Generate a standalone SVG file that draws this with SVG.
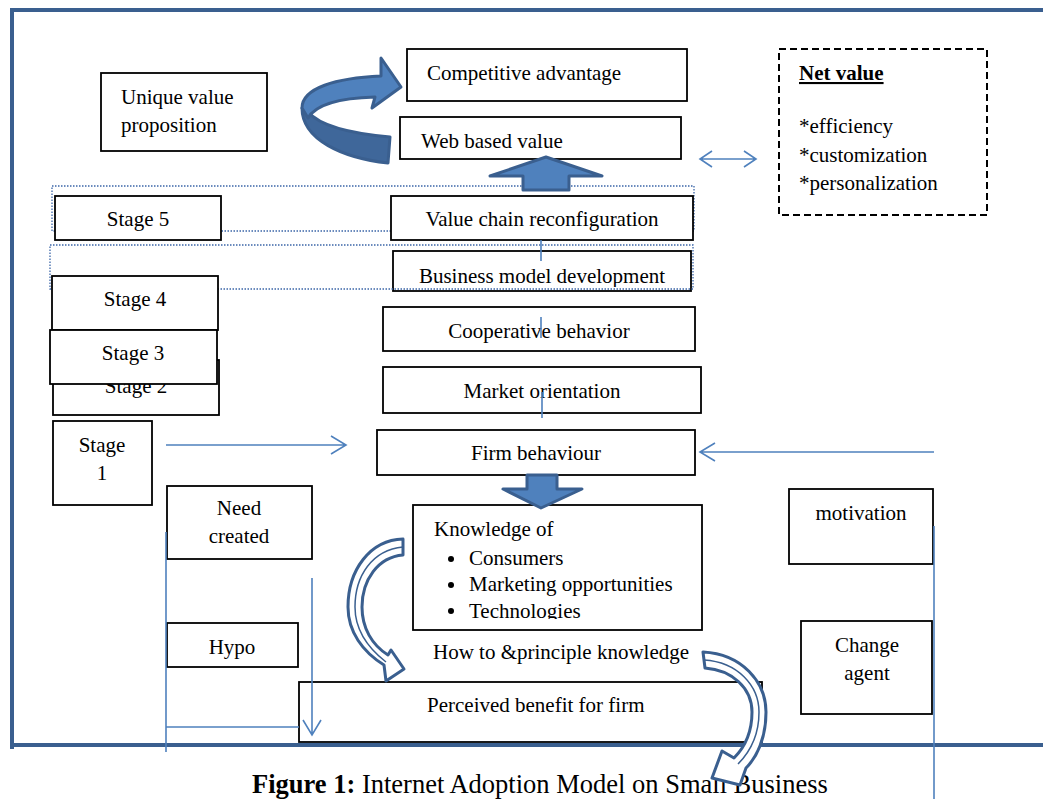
<svg xmlns="http://www.w3.org/2000/svg" width="1043" height="799" viewBox="0 0 1043 799">
<defs>
<style>
.box{fill:#fff;stroke:#000;stroke-width:1.8}
.t{font-family:"Liberation Serif","Times New Roman",serif;font-size:21px;fill:#000}
.c{text-anchor:middle}
.ln{fill:none;stroke:#4F81BD;stroke-width:1.6}
.dot{fill:none;stroke:#3B66A8;stroke-width:1.3;stroke-dasharray:1.5,1.5}
.fat{fill:#4F81BD;stroke:#3A5F8F;stroke-width:3;stroke-linejoin:round}
.hol{fill:#fff;stroke:#3A5F8F;stroke-width:3;stroke-linejoin:round}
</style>
<clipPath id="bmclip"><rect x="393" y="251" width="298" height="36"/></clipPath>
<clipPath id="kclip"><rect x="413" y="505" width="289" height="114"/></clipPath>
</defs>
<rect width="1043" height="799" fill="#fff"/>
<path d="M12,749 L12,10 L1043,10 M10,745 L1043,745" fill="none" stroke="#3A5F8F" stroke-width="4"/>

<rect class="dot" x="52" y="186" width="642" height="45"/>

<g id="unique"><rect class="box" x="101" y="73" width="166" height="78"/><text class="t" x="121" y="104">Unique value</text><text class="t" x="121" y="132">proposition</text></g>
<g id="competitive"><rect class="box" x="407" y="49" width="280" height="52"/><text class="t" x="427" y="80">Competitive advantage</text></g>
<g id="webvalue"><rect class="box" x="400" y="117" width="281" height="42"/><text class="t" x="421" y="148">Web based value</text></g>
<g id="netvalue"><rect x="779" y="49" width="208" height="166" fill="#fff" stroke="#000" stroke-width="2" stroke-dasharray="7,4"/>
<text class="t" x="799" y="80" font-weight="bold" text-decoration="underline">Net value</text>
<text class="t" x="799" y="133">*efficiency</text><text class="t" x="799" y="162">*customization</text><text class="t" x="799" y="190">*personalization</text></g>

<g id="stage5"><rect class="box" x="55" y="196" width="166" height="44"/><text class="t c" x="138" y="226">Stage 5</text></g>
<g id="valuechain"><rect class="box" x="391" y="196" width="302" height="44"/><text class="t c" x="542" y="226">Value chain reconfiguration</text></g>
<g id="bizmodel"><rect class="box" x="393" y="251" width="298" height="40"/><text class="t c" x="542" y="283" clip-path="url(#bmclip)">Business model development</text></g>
<rect class="dot" x="50" y="245" width="643" height="44"/>
<g id="stage4"><rect class="box" x="52" y="276" width="166" height="54"/><text class="t c" x="135" y="306">Stage 4</text></g>
<g id="coop"><rect class="box" x="383" y="307" width="312" height="44"/><text class="t c" x="539" y="338">Cooperative behavior</text></g>
<g id="stage2"><rect class="box" x="53" y="360" width="166" height="55"/><text class="t c" x="136" y="393">Stage 2</text></g>
<g id="stage3"><rect class="box" x="50" y="330" width="167" height="54"/><text class="t c" x="133" y="360">Stage 3</text></g>
<g id="market"><rect class="box" x="383" y="367" width="318" height="46"/><text class="t c" x="542" y="398">Market orientation</text></g>
<g id="stage1"><rect class="box" x="53" y="421" width="99" height="84"/><text class="t c" x="102" y="452">Stage</text><text class="t c" x="102" y="480">1</text></g>
<g id="firm"><rect class="box" x="377" y="430" width="318" height="45"/><text class="t c" x="536" y="460">Firm behaviour</text></g>
<g id="need"><rect class="box" x="167" y="486" width="145" height="73"/><text class="t c" x="239" y="515">Need</text><text class="t c" x="239" y="543">created</text></g>
<g id="motivation"><rect class="box" x="789" y="489" width="144" height="75"/><text class="t c" x="861" y="520">motivation</text></g>
<g id="knowledge"><rect class="box" x="413" y="505" width="289" height="125"/>
<g clip-path="url(#kclip)"><text class="t" x="434" y="536">Knowledge of</text>
<circle cx="451" cy="559" r="3"/><circle cx="451" cy="585" r="3"/><circle cx="451" cy="611" r="3"/>
<text class="t" x="469" y="565">Consumers</text><text class="t" x="469" y="591">Marketing opportunities</text><text class="t" x="469" y="618">Technologies</text></g></g>
<g id="hypo"><rect class="box" x="167" y="623" width="131" height="44"/><text class="t c" x="232" y="654">Hypo</text></g>
<g id="change"><rect class="box" x="801" y="621" width="131" height="93"/><text class="t c" x="867" y="652">Change</text><text class="t c" x="867" y="680">agent</text></g>
<g id="howto"><text class="t" x="433" y="659">How to &amp;principle knowledge</text></g>
<g id="perceived"><rect class="box" x="299" y="682" width="463" height="60"/><text class="t" x="427" y="712">Perceived benefit for firm</text></g>

<text x="252" y="793" font-family="Liberation Serif, Times New Roman, serif" font-size="26.5px"><tspan font-weight="bold">Figure 1:</tspan> Internet Adoption Model on Small Business</text>

<g id="connectors">
<path class="ln" d="M541,240 L541,261 M541,317 L541,338 M542,392 L542,418"/>
<path class="ln" d="M166,445 L346,445 M331,436 L346,445 L331,454"/>
<path class="ln" d="M934,452 L700,452 M715,443 L700,452 L715,461"/>
<path class="ln" d="M700,159 L756,159 M712,151 L700,159 L712,167 M744,151 L756,159 L744,167"/>
<path class="ln" d="M312,578 L312,735 M303,720 L312,735 L321,720"/>
<path class="ln" d="M166,532 L166,752 M166,727 L299,727"/>
<path class="ln" d="M934,526 L934,799"/>
<path class="fat" d="M523,190 L523,176 L490,176 L546,157 L602,176 L569,176 L569,190 Z"/>
<path class="fat" d="M527,475 L557,475 L557,489 L582,489 L541,508 L503,489 L527,489 Z"/>
<path d="M308,112 C322,128 356,134 390,137 L388,163 C343,158 302,140 302,108 Z" fill="#3F679A" stroke="#3A5F8F" stroke-width="3" stroke-linejoin="round"/>
<path class="fat" d="M302,108 C302,88 336,78 381,76 L381,58 L401,87 L372,108 L375,97 C340,98 316,104 308,118 Z"/>
<path class="hol" d="M403,539 L403,555 C378,557 362,580 362,607 C362,628 372,645 388,655 L391,650 L404,669 L386,681 L384,665 C363,652 348,632 348,607 C348,570 370,540 403,539 Z"/>
<path fill="none" stroke="#3A5F8F" stroke-width="1.5" d="M403,547 C372,550 355,576 355,607 C355,630 368,648 386,662"/>
<path class="hol" d="M703,652 C742,654 766,682 766,712 C766,738 757,757 746,768 L740,785 L712,778 L722,751 L734,758 C746,746 752,730 752,712 C752,688 732,670 705,668 Z"/>
<path fill="none" stroke="#3A5F8F" stroke-width="1.5" d="M704,660 C738,662 759,686 759,712 C759,734 750,752 738,764"/>
</g>
</svg>
